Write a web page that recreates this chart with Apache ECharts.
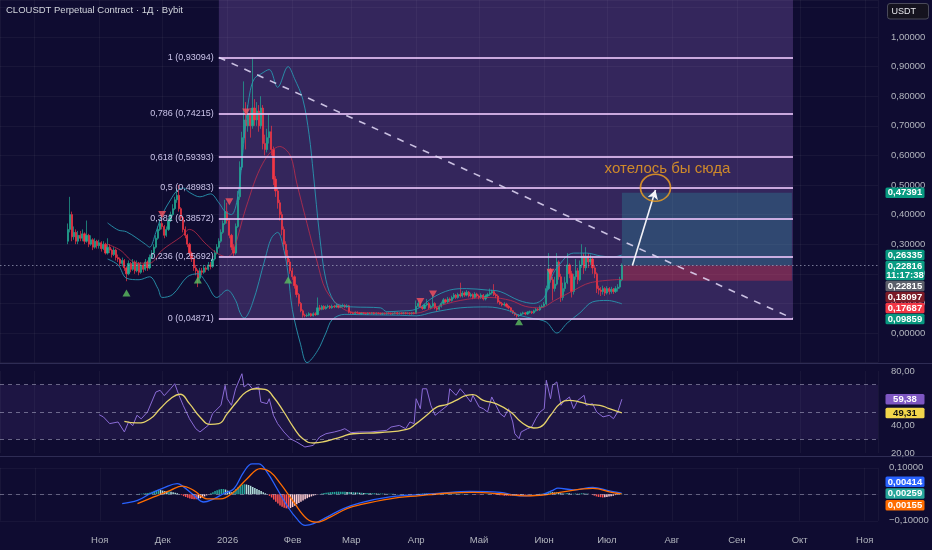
<!DOCTYPE html>
<html><head><meta charset="utf-8">
<script src="https://cdn.jsdelivr.net/npm/echarts@6/dist/echarts.min.js"></script>
<style>html,body{margin:0;padding:0;background:#0f0c31;}#c{width:932px;height:550px;}</style>
</head><body><div id="c"></div>
<script>
// ---------- DATA ----------
const FIRST_DATE = [2025, 9, 17]; // 17 Oct 2025, day index 0
const opens = [
0.31,0.35,0.40,0.325,0.34,0.31,0.33,0.32,0.335,0.31,
0.33,0.30,0.315,0.29,0.31,0.295,0.305,0.285,0.30,0.27,
0.29,0.28,0.265,0.28,0.255,0.25,0.235,0.245,0.22,0.20,
0.235,0.215,0.24,0.21,0.235,0.205,0.23,0.215,0.24,0.22,
0.255,0.27,0.29,0.32,0.35,0.37,0.36,0.33,0.35,0.38,
0.40,0.42,0.45,0.465,0.42,0.39,0.35,0.33,0.30,0.27,
0.25,0.22,0.21,0.185,0.21,0.205,0.22,0.215,0.23,0.225,
0.25,0.27,0.29,0.31,0.34,0.37,0.41,0.38,0.33,0.29,
0.27,0.36,0.46,0.56,0.66,0.72,0.70,0.74,0.70,0.76,
0.72,0.75,0.70,0.76,0.64,0.62,0.66,0.68,0.62,0.52,
0.48,0.44,0.40,0.35,0.30,0.26,0.24,0.21,0.19,0.16,
0.13,0.10,0.075,0.06,0.058,0.06,0.065,0.058,0.065,0.062,
0.085,0.08,0.09,0.082,0.088,0.09,0.085,0.09,0.088,0.092,
0.087,0.09,0.093,0.088,0.092,0.07,0.068,0.066,0.07,0.067,
0.065,0.068,0.066,0.064,0.067,0.066,0.068,0.065,0.067,0.066,
0.064,0.066,0.065,0.067,0.066,0.064,0.066,0.068,0.065,0.067,
0.066,0.068,0.066,0.067,0.065,0.068,0.066,0.09,0.10,0.088,
0.083,0.095,0.10,0.085,0.09,0.10,0.085,0.08,0.09,0.10,
0.112,0.105,0.115,0.11,0.12,0.128,0.12,0.13,0.125,0.135,
0.128,0.138,0.125,0.13,0.12,0.132,0.125,0.12,0.128,0.115,
0.125,0.13,0.135,0.14,0.13,0.125,0.105,0.10,0.095,0.098,
0.09,0.085,0.075,0.068,0.062,0.058,0.06,0.065,0.068,0.064,
0.07,0.072,0.068,0.075,0.08,0.078,0.088,0.09,0.098,0.15,
0.215,0.18,0.15,0.165,0.24,0.19,0.12,0.15,0.17,0.23,
0.20,0.14,0.19,0.21,0.18,0.23,0.26,0.22,0.26,0.24,
0.25,0.22,0.20,0.15,0.145,0.14,0.15,0.135,0.15,0.14,
0.148,0.14,0.15,0.155,0.18];
const closes = [
0.35,0.40,0.325,0.34,0.31,0.33,0.32,0.335,0.31,0.33,
0.30,0.315,0.29,0.31,0.295,0.305,0.285,0.30,0.27,0.29,
0.28,0.265,0.28,0.255,0.25,0.235,0.245,0.22,0.20,0.235,
0.215,0.24,0.21,0.235,0.205,0.23,0.215,0.24,0.22,0.255,
0.27,0.29,0.32,0.35,0.37,0.36,0.33,0.35,0.38,0.40,
0.42,0.45,0.465,0.42,0.39,0.35,0.33,0.30,0.27,0.25,
0.22,0.21,0.185,0.21,0.205,0.22,0.215,0.23,0.225,0.25,
0.27,0.29,0.31,0.34,0.37,0.41,0.38,0.33,0.29,0.27,
0.36,0.46,0.56,0.66,0.72,0.70,0.74,0.70,0.76,0.72,
0.75,0.70,0.76,0.64,0.62,0.66,0.68,0.62,0.52,0.48,
0.44,0.40,0.35,0.30,0.26,0.24,0.21,0.19,0.16,0.13,
0.10,0.075,0.06,0.058,0.06,0.065,0.058,0.065,0.062,0.085,
0.08,0.09,0.082,0.088,0.09,0.085,0.09,0.088,0.092,0.087,
0.09,0.093,0.088,0.092,0.07,0.068,0.066,0.07,0.067,0.065,
0.068,0.066,0.064,0.067,0.066,0.068,0.065,0.067,0.066,0.064,
0.066,0.065,0.067,0.066,0.064,0.066,0.068,0.065,0.067,0.066,
0.068,0.066,0.067,0.065,0.068,0.066,0.09,0.10,0.088,0.083,
0.095,0.10,0.085,0.09,0.10,0.085,0.08,0.09,0.10,0.112,
0.105,0.115,0.11,0.12,0.128,0.12,0.13,0.125,0.135,0.128,
0.138,0.125,0.13,0.12,0.132,0.125,0.12,0.128,0.115,0.125,
0.13,0.135,0.14,0.13,0.125,0.105,0.10,0.095,0.098,0.09,
0.085,0.075,0.068,0.062,0.058,0.06,0.065,0.068,0.064,0.07,
0.072,0.068,0.075,0.08,0.078,0.088,0.09,0.098,0.15,0.215,
0.18,0.15,0.165,0.24,0.19,0.12,0.15,0.17,0.23,0.20,
0.14,0.19,0.21,0.18,0.23,0.26,0.22,0.26,0.24,0.25,
0.22,0.20,0.15,0.145,0.14,0.15,0.135,0.15,0.14,0.148,
0.14,0.15,0.155,0.18,0.22816];
const highs = [
0.37,0.46,0.41,0.36,0.35,0.345,0.345,0.35,0.34,0.38,
0.335,0.33,0.32,0.32,0.315,0.315,0.31,0.31,0.305,0.32,
0.30,0.285,0.29,0.285,0.265,0.255,0.255,0.25,0.225,0.245,
0.24,0.25,0.245,0.245,0.24,0.24,0.235,0.25,0.245,0.265,
0.28,0.30,0.33,0.36,0.385,0.39,0.365,0.36,0.39,0.41,
0.435,0.46,0.49,0.50,0.425,0.395,0.36,0.335,0.305,0.275,
0.255,0.23,0.215,0.22,0.22,0.23,0.225,0.24,0.24,0.26,
0.28,0.30,0.32,0.35,0.38,0.45,0.44,0.385,0.335,0.30,
0.37,0.48,0.58,0.68,0.85,0.78,0.77,0.76,0.93,0.79,
0.78,0.77,0.80,0.77,0.67,0.69,0.74,0.70,0.63,0.53,
0.49,0.45,0.41,0.36,0.31,0.28,0.25,0.22,0.195,0.165,
0.135,0.105,0.08,0.065,0.066,0.07,0.068,0.07,0.07,0.12,
0.095,0.095,0.094,0.093,0.096,0.094,0.096,0.095,0.098,0.096,
0.095,0.099,0.097,0.097,0.095,0.073,0.071,0.073,0.073,0.07,
0.071,0.071,0.069,0.07,0.07,0.071,0.071,0.07,0.07,0.069,
0.069,0.069,0.07,0.07,0.069,0.069,0.071,0.071,0.07,0.07,
0.071,0.071,0.07,0.07,0.071,0.071,0.11,0.108,0.104,0.092,
0.10,0.115,0.104,0.096,0.13,0.104,0.09,0.096,0.106,0.118,
0.116,0.122,0.12,0.126,0.135,0.132,0.136,0.17,0.142,0.14,
0.145,0.142,0.136,0.134,0.138,0.136,0.13,0.134,0.132,0.13,
0.136,0.15,0.146,0.165,0.135,0.13,0.11,0.105,0.104,0.102,
0.094,0.088,0.078,0.071,0.065,0.064,0.069,0.072,0.071,0.074,
0.076,0.075,0.079,0.085,0.084,0.093,0.096,0.105,0.16,0.27,
0.22,0.19,0.19,0.27,0.245,0.20,0.17,0.19,0.27,0.235,
0.21,0.20,0.25,0.22,0.245,0.30,0.27,0.29,0.27,0.265,
0.255,0.23,0.205,0.16,0.155,0.16,0.155,0.158,0.155,0.156,
0.152,0.158,0.165,0.19,0.235];
const lows = [
0.30,0.34,0.31,0.315,0.30,0.30,0.31,0.31,0.30,0.305,
0.29,0.295,0.28,0.285,0.285,0.285,0.275,0.28,0.265,0.265,
0.27,0.255,0.26,0.245,0.24,0.225,0.225,0.21,0.175,0.195,
0.205,0.21,0.20,0.205,0.195,0.20,0.205,0.21,0.21,0.215,
0.25,0.265,0.285,0.315,0.345,0.35,0.32,0.325,0.345,0.375,
0.395,0.415,0.44,0.41,0.38,0.34,0.32,0.29,0.26,0.24,
0.21,0.195,0.155,0.18,0.195,0.20,0.205,0.21,0.215,0.22,
0.245,0.265,0.285,0.305,0.335,0.365,0.37,0.32,0.28,0.26,
0.265,0.355,0.45,0.55,0.64,0.62,0.68,0.66,0.69,0.70,
0.70,0.68,0.69,0.62,0.60,0.61,0.64,0.60,0.50,0.46,
0.42,0.38,0.33,0.28,0.25,0.23,0.20,0.18,0.15,0.12,
0.09,0.07,0.052,0.053,0.054,0.056,0.055,0.056,0.058,0.06,
0.075,0.077,0.078,0.079,0.084,0.081,0.082,0.084,0.085,0.083,
0.084,0.086,0.084,0.085,0.066,0.064,0.063,0.063,0.064,0.062,
0.062,0.063,0.061,0.061,0.063,0.063,0.062,0.062,0.063,0.061,
0.061,0.062,0.062,0.063,0.061,0.061,0.063,0.062,0.062,0.063,
0.063,0.063,0.063,0.062,0.062,0.063,0.065,0.086,0.084,0.078,
0.08,0.09,0.08,0.08,0.086,0.08,0.072,0.076,0.086,0.096,
0.10,0.10,0.105,0.106,0.115,0.115,0.116,0.12,0.12,0.122,
0.124,0.12,0.12,0.114,0.116,0.12,0.114,0.115,0.11,0.11,
0.12,0.125,0.13,0.125,0.118,0.10,0.095,0.09,0.09,0.086,
0.08,0.07,0.064,0.058,0.052,0.054,0.057,0.062,0.06,0.061,
0.066,0.064,0.065,0.072,0.074,0.075,0.084,0.086,0.095,0.145,
0.17,0.11,0.14,0.16,0.18,0.105,0.11,0.14,0.165,0.185,
0.12,0.13,0.18,0.165,0.175,0.22,0.20,0.21,0.22,0.23,
0.20,0.185,0.135,0.13,0.125,0.13,0.125,0.13,0.13,0.133,
0.132,0.135,0.14,0.15,0.175];

// Bollinger bands [day index, value]
const bbUpper = [[19,0.372],[24,0.348],[28,0.342],[33,0.32],[37,0.30],[39,0.29],[42,0.34],[45,0.40],[49,0.45],[52,0.48],[55,0.49],[58,0.475],[63,0.46],[68,0.47],[72,0.44],[75,0.41],[78,0.40],[81,0.46],[83,0.58],[85,0.72],[87,0.82],[89,0.86],[92,0.875],[96,0.89],[100,0.83],[105,0.90],[108,0.86],[112,0.79],[115,0.67],[117,0.54],[120,0.33],[123,0.18],[127,0.105],[131,0.092],[136,0.088],[149,0.085],[152,0.072],[158,0.074],[166,0.08],[174,0.12],[182,0.145],[190,0.15],[200,0.145],[206,0.14],[215,0.11],[222,0.10],[227,0.12],[230,0.18],[233,0.22],[241,0.27],[247,0.27],[254,0.26],[260,0.257],[264,0.26335]];
const bbLower = [[19,0.25],[24,0.23],[28,0.185],[34,0.18],[39,0.19],[43,0.15],[45,0.12],[50,0.13],[57,0.19],[62,0.20],[66,0.17],[71,0.12],[76,0.145],[80,0.11],[82,0.07],[84,0.05],[88,0.10],[94,0.25],[97,0.32],[100,0.34],[103,0.28],[105,0.20],[107,0.08],[111,-0.04],[114,-0.10],[119,-0.06],[123,0.0],[126,0.045],[132,0.063],[139,0.062],[158,0.06],[166,0.058],[174,0.07],[187,0.085],[200,0.088],[209,0.078],[215,0.06],[221,0.05],[228,0.037],[233,0.0],[238,0.034],[244,0.068],[250,0.105],[257,0.11],[264,0.09859]];
const bbBasis = [[19,0.30],[25,0.28],[33,0.236],[39,0.236],[45,0.28],[54,0.325],[58,0.35],[66,0.30],[71,0.27],[76,0.257],[79,0.28],[85,0.425],[93,0.574],[101,0.63],[106,0.60],[109,0.51],[114,0.37],[119,0.236],[123,0.145],[130,0.088],[136,0.07],[166,0.067],[174,0.085],[187,0.11],[201,0.12],[211,0.11],[218,0.09],[225,0.085],[232,0.11],[240,0.14],[249,0.17],[264,0.18097]];

// signal markers [day index, price]
const buySignals = [[28,0.135],[62,0.179],[105,0.179],[215,0.038]];
const sellSignals = [[45,0.40],[77,0.443],[85,0.747],[168,0.106],[174,0.132],[230,0.205]];

// Fibonacci retracement
const fibRatios = ['1','0,786','0,618','0,5','0,382','0,236','0'];
const fibPrices = [0.93094,0.74215,0.59393,0.48983,0.38572,0.25692,0.04871];
const fibSpan = [72, 345.5];
// long position tool
const posSpan = [264, 345];
const posEntry = 0.22815, posTarget = 0.47391, posStop = 0.17687;
const lastPrice = 0.22816;
// annotation
const arrowFrom = [269, 0.228], arrowTo = [280, 0.483];
const circleAt = [280, 0.491];
const noteAt = [285.7, 0.554];
const noteText = 'хотелось бы сюда';

// RSI [day, value] and its MA
const rsiLine = [[15,48],[17,46.4],[20,41.5],[24,42.7],[27,35.4],[29,42.7],[31,40],[33,47.6],[35,45],[38,50],[40,57.3],[42,64.6],[44,65.9],[46,62],[49,67],[51,70.7],[53,62.2],[55,54.9],[58,45.1],[61,37.8],[63,35.4],[67,40.3],[69,48.8],[73,54.9],[75,69.5],[76,59.7],[78,54.9],[80,67],[83,78],[84,68.3],[86,70.7],[88,67],[91,68.3],[92,57.3],[95,56.1],[96,59.7],[98,47.6],[100,41.5],[103,35.4],[106,30.5],[109,28.1],[113,24.4],[117,25.6],[120,31.7],[123,34.1],[127,35.4],[130,36.6],[132,37.8],[135,34.9],[139,35.4],[144,35.4],[152,36.6],[154,39],[158,40.2],[161,37.8],[163,42.7],[165,41.5],[166,59.7],[168,52.4],[169,67],[171,67],[173,54.9],[175,47.6],[177,50],[181,54.9],[182,67],[185,62.2],[187,67],[189,63.4],[192,57.3],[193,62.2],[196,53.7],[198,52.4],[200,50],[202,61],[204,54.9],[206,48.8],[208,46.4],[210,52.4],[212,42.7],[213,34.1],[215,30.5],[216,35.4],[219,37.8],[221,39],[223,45.1],[225,50],[227,52.4],[228,73.2],[230,59.7],[231,69.5],[233,72],[235,54.9],[236,57.3],[239,61],[241,52.4],[243,58.5],[246,62.2],[247,54.9],[250,56.1],[252,50],[255,46.4],[258,47.6],[260,45.1],[262,50],[264,59.38]];
const rsiMa = [[27,43.2],[33,42],[39,44.7],[44,52.4],[49,59.7],[53.5,63],[58,56.1],[63,46.4],[68,41],[72,41.5],[76,48.8],[80.5,57.3],[85,64.6],[90,67],[94,66.6],[98,61],[103,50],[107.5,39],[112,30.5],[117,27.3],[123,28.6],[130,31.7],[136,34.1],[149,35],[161.5,37.3],[166,41.5],[171,47.6],[176,53.7],[180.5,55.4],[185,58.5],[190,62.2],[193,62.7],[198,58.5],[204,56.1],[211,50],[216,42.7],[222,38.3],[225,39],[230,47.6],[234.5,56.1],[239,58.5],[244,57.3],[249,55.4],[253.5,54.9],[258,52.4],[264,49.31]];

// MACD
const macdLine = [[25.7,-0.035],[33,-0.023],[39,0.002],[45.5,0.024],[52,0.04],[55,0.028],[60,-0.004],[64.6,-0.029],[69.4,-0.017],[74,0.002],[79,0.021],[83.7,0.084],[87.7,0.115],[90.8,0.115],[94.8,0.084],[99.6,0.021],[104.3,-0.042],[109,-0.092],[113,-0.117],[117,-0.111],[123.4,-0.086],[131.3,-0.054],[139.3,-0.032],[153.5,-0.01],[167.8,-0.001],[177.4,0.004],[191.6,0.011],[206,0.007],[215.5,-0.006],[225,-0.003],[231.2,0.015],[233.6,0.023],[241,0.017],[250.3,0.026],[257,0.015],[264,0.00414]];
const signalLine = [[33,-0.035],[40.8,-0.01],[48.7,0.015],[54.3,0.031],[59.8,0.015],[66.2,-0.017],[72.6,-0.017],[79,0.009],[85.3,0.059],[91.6,0.097],[96.4,0.084],[101.2,0.04],[107.5,-0.029],[113.8,-0.092],[118.6,-0.105],[125,-0.086],[132.9,-0.054],[139.3,-0.039],[153.5,-0.017],[167.8,-0.005],[180.7,0.004],[193.1,0.007],[206,0.002],[218.8,-0.006],[228.3,-0.001],[234.5,0.007],[250.3,0.022],[259.8,0.006],[264,0.00155]];
const HIST_START = 33;
const macdHist = [
0.001,0.002,0.002,0.003,0.004,0.005,
0.007,0.010,0.013,0.015,0.017,0.016,
0.014,0.012,0.011,0.012,0.010,
0.008,0.006,0.004,0.001,
-0.003,-0.007,-0.010,-0.013,-0.016,-0.018,-0.019,-0.019,
-0.017,-0.015,-0.012,-0.008,-0.004,
0.000,0.004,0.008,0.012,
0.015,0.018,0.020,0.020,0.018,0.014,
0.010,0.008,0.012,0.020,
0.027,0.032,0.036,0.038,0.037,0.035,0.032,
0.028,0.024,0.020,0.016,0.012,0.008,0.004,0.001,
-0.006,-0.012,-0.020,-0.028,-0.035,-0.042,-0.047,-0.051,-0.053,-0.054,-0.052,
-0.048,-0.043,-0.038,-0.033,-0.028,-0.023,-0.019,-0.015,-0.011,-0.008,-0.005,-0.003,-0.001,0.001,
0.003,0.005,0.006,0.007,0.008,0.009,0.009,0.010,0.010,0.010,0.010,0.010,0.009,0.009,0.008,0.008,0.007,0.007,0.006,
0.006,0.005,0.005,0.005,0.004,0.004,0.004,0.003,0.003,0.003,0.003,0.002,0.002,0.002,0.002,0.002,0.001,0.001,0.001,0.001,0.001,0.001,0.000,0.000,0.000,0.000,0.001,0.002,0.002,
0.003,0.003,0.003,0.002,0.002,0.002,0.001,0.001,0.001,0.002,0.002,0.003,0.003,0.003,0.003,0.003,0.002,0.002,0.002,0.002,0.001,0.001,0.001,0.000,0.000,-0.001,-0.001,-0.001,-0.001,0.000,0.000,0.001,0.001,0.000,-0.001,-0.002,-0.003,
-0.004,-0.004,-0.005,-0.005,-0.005,-0.005,-0.005,-0.005,-0.004,-0.004,-0.003,-0.002,-0.002,-0.001,-0.001,
0.000,0.000,0.001,0.001,0.002,0.002,0.003,
0.006,0.010,0.010,0.008,0.007,0.009,0.007,
0.004,0.003,0.003,0.005,0.004,0.002,0.002,0.003,0.002,0.003,0.004,0.003,0.003,0.002,
0.000,-0.002,-0.005,-0.008,-0.010,-0.011,-0.012,-0.011,-0.010,-0.008,-0.007,-0.005,
-0.003,-0.001,0.001,0.00259];

// price-scale badges
const priceBadges = [
  {v:0.47391, bg:'#089981'},
  {v:0.26335, bg:'#089981'},
  {v:0.22816, bg:'#0a9d84', sub:'11:17:38'},
  {v:0.22815, bg:'#5d606b'},
  {v:0.18097, bg:'#7b1a27'},
  {v:0.17687, bg:'#f23645'},
  {v:0.09859, bg:'#089981'}
];
const rsiBadges = [{v:59.38, bg:'#7e57c2', fg:'#ffffff'},{v:49.31, bg:'#f2d64b', fg:'#111111'}];
const macdBadges = [{v:0.00414, bg:'#2962ff'},{v:0.00259, bg:'#26a69a'},{v:0.00155, bg:'#ff6d00'}];
const monthNames = ['Янв','Фев','Мар','Апр','Май','Июн','Июл','Авг','Сен','Окт','Ноя','Дек'];
const titleText = 'CLOUSDT Perpetual Contract · 1Д · Bybit';
const currencyText = 'USDT';

// ---------- CHART ----------
const DAY = 86400000;
const T0 = Date.UTC(FIRST_DATE[0], FIRST_DATE[1], FIRST_DATE[2]);
const day = i => T0 + i * DAY;
const pts = arr => arr.map(p => [day(p[0]), p[1]]);
const FONT = 'Liberation Sans';
const AX = '#b2b5be';
const X_MIN = day(-32.25), X_MAX = day(386);
const comma = (v, d) => (v < 0 ? '−' : '') + Math.abs(v).toFixed(d).replace('.', ',');

const candles = closes.map((c, i) => [day(i), opens[i], c, lows[i], highs[i]]);
const histData = macdHist.map((v, k) => [day(HIST_START + k), v]);

function xAxisCfg(gi, showLabels) {
  return {
    type: 'time', gridIndex: gi, min: X_MIN, max: X_MAX,
    splitNumber: 14, minInterval: 28 * DAY, maxInterval: 31 * DAY,
    axisLine: {show: false}, axisTick: {show: false},
    splitLine: {show: true, lineStyle: {color: 'rgba(255,255,255,0.045)', width: 1}},
    axisLabel: showLabels ? {
      show: true, color: AX, fontSize: 9.5, fontFamily: FONT, margin: 15, hideOverlap: false,
      formatter: function (v) {
        if (v < T0) return '';
        const d = new Date(v);
        if (d.getUTCDate() !== 1 || d.getUTCHours() !== 0) return '';
        const m = d.getUTCMonth();
        return m === 0 ? String(d.getUTCFullYear()) : monthNames[m];
      }
    } : {show: false}
  };
}
const noAxisDeco = {axisLine: {show: false}, axisTick: {show: false}};

const option = {
  backgroundColor: '#0f0c31',
  animation: false,
  useUTC: true,
  grid: [
    {left: 0, right: 54, top: 0, height: 362.6, outerBoundsMode: 'none'},
    {left: 0, right: 54, top: 371, height: 82, outerBoundsMode: 'none'},
    {left: 0, right: 54, top: 467.8, height: 53, outerBoundsMode: 'none'}
  ],
  xAxis: [xAxisCfg(0, false), xAxisCfg(1, false), xAxisCfg(2, true)],
  yAxis: [
    Object.assign({type: 'value', gridIndex: 0, position: 'right', min: -0.1, max: 1.125, interval: 0.1,
      splitLine: {show: true, lineStyle: {color: 'rgba(255,255,255,0.045)'}},
      axisLabel: {color: AX, fontSize: 9.5, fontFamily: FONT, margin: 13,
        formatter: v => (v < -1e-6 || v > 1.00001) ? '' : comma(v, 5)}}, noAxisDeco),
    Object.assign({type: 'value', gridIndex: 1, position: 'right', min: 20, max: 80, interval: 20,
      splitLine: {show: false},
      axisLabel: {color: AX, fontSize: 9.5, fontFamily: FONT, margin: 13, formatter: v => comma(v, 2)}}, noAxisDeco),
    Object.assign({type: 'value', gridIndex: 2, position: 'right', min: -0.1, max: 0.1, interval: 0.1,
      splitLine: {show: true, lineStyle: {color: 'rgba(255,255,255,0.04)'}},
      axisLabel: {color: AX, fontSize: 9.5, fontFamily: FONT, margin: 11,
        formatter: v => Math.abs(v) < 1e-9 ? '' : comma(v, 5)}}, noAxisDeco)
  ],
  series: [
    { // Fibonacci retracement
      type: 'line', xAxisIndex: 0, yAxisIndex: 0, data: [], z: 1, silent: true,
      markArea: {silent: true, itemStyle: {color: 'rgba(155,112,210,0.27)'},
        data: [[{coord: [day(fibSpan[0]), fibPrices[6]]}, {coord: [day(fibSpan[1]), 1.125]}]]},
      markLine: {silent: true, symbol: ['none', 'none'],
        lineStyle: {color: 'rgba(228,192,244,0.85)', width: 2, type: 'solid'},
        label: {show: true, position: 'start', distance: 5, color: '#cbc4ea', fontSize: 9, fontFamily: FONT,
          formatter: p => p.name},
        data: fibPrices.map((p, k) => [
          {name: fibRatios[k] + ' (' + comma(p, 5) + ')', coord: [day(fibSpan[0]), p]},
          {coord: [day(fibSpan[1]), p]}])}
    },
    { // long position tool
      type: 'line', xAxisIndex: 0, yAxisIndex: 0, data: [], z: 2, silent: true,
      markArea: {silent: true, data: [
        [{coord: [day(posSpan[0]), posEntry], itemStyle: {color: 'rgba(40,170,175,0.26)'}}, {coord: [day(posSpan[1]), posTarget]}],
        [{coord: [day(posSpan[0]), posStop], itemStyle: {color: 'rgba(242,54,69,0.32)'}}, {coord: [day(posSpan[1]), posEntry]}]
      ]}
    },
    {
      type: 'candlestick', xAxisIndex: 0, yAxisIndex: 0, data: candles, z: 3,
      encode: {x: 0, y: [1, 2, 3, 4]},
      barWidth: 1.7,
      itemStyle: {color: '#22ab94', color0: '#f23645', borderColor: '#22ab94', borderColor0: '#f23645', borderWidth: 0.7},
      markLine: {silent: true, symbol: ['none', 'none'], label: {show: false},
        lineStyle: {color: 'rgba(170,175,200,0.65)', width: 1, type: [1.5, 2.5]},
        data: [{yAxis: lastPrice}]}
    },
    {type: 'line', xAxisIndex: 0, yAxisIndex: 0, data: pts(bbBasis), z: 4, symbol: 'none', smooth: 0.35, clip: false,
      lineStyle: {color: 'rgba(200,45,75,0.75)', width: 1}},
    {type: 'line', xAxisIndex: 0, yAxisIndex: 0, data: pts(bbUpper), z: 4, symbol: 'none', smooth: 0.35, clip: false,
      lineStyle: {color: 'rgba(40,150,175,0.9)', width: 1}},
    {type: 'line', xAxisIndex: 0, yAxisIndex: 0, data: pts(bbLower), z: 4, symbol: 'none', smooth: 0.35, clip: false,
      lineStyle: {color: 'rgba(40,150,175,0.9)', width: 1}},
    {type: 'scatter', xAxisIndex: 0, yAxisIndex: 0, data: pts(buySignals), z: 5, symbol: 'triangle', symbolSize: [8, 7],
      itemStyle: {color: '#5cbf60'}},
    {type: 'scatter', xAxisIndex: 0, yAxisIndex: 0, data: pts(sellSignals), z: 5, symbol: 'triangle', symbolRotate: 180, symbolSize: [8, 7],
      itemStyle: {color: '#f7525f'}},
    { // dashed trend line (fib diagonal)
      type: 'line', xAxisIndex: 0, yAxisIndex: 0, data: [], z: 6, silent: true,
      markLine: {silent: true, symbol: ['none', 'none'], label: {show: false},
        lineStyle: {color: 'rgba(228,218,248,0.85)', width: 1.6, type: [7, 7]},
        data: [[{coord: [day(fibSpan[0]), fibPrices[0]]}, {coord: [day(fibSpan[1]), fibPrices[6]]}]]}
    },
    { // arrow
      type: 'line', xAxisIndex: 0, yAxisIndex: 0, data: [], z: 6, silent: true,
      markLine: {silent: true, symbol: ['none', 'arrow'], symbolSize: [8, 9], label: {show: false},
        lineStyle: {color: '#f2f2f7', width: 1.6, type: 'solid'},
        data: [[{coord: [day(arrowFrom[0]), arrowFrom[1]]}, {coord: [day(arrowTo[0]), arrowTo[1]]}]]}
    },
    {type: 'scatter', xAxisIndex: 0, yAxisIndex: 0, data: pts([circleAt]), z: 6, symbol: 'circle', symbolSize: [30, 27],
      itemStyle: {color: 'rgba(0,0,0,0)', borderColor: '#f5a31e', borderWidth: 1.6}},
    {type: 'scatter', xAxisIndex: 0, yAxisIndex: 0, data: pts([noteAt]), z: 6, symbolSize: 1,
      itemStyle: {color: 'rgba(0,0,0,0)'},
      label: {show: true, position: 'inside', formatter: noteText, fontSize: 15, fontFamily: FONT, color: '#f5a31e'}},
    // RSI pane
    {type: 'line', xAxisIndex: 1, yAxisIndex: 1, data: pts(rsiLine), symbol: 'none', smooth: false, z: 3,
      lineStyle: {color: '#8a6bd6', width: 1},
      markArea: {silent: true, itemStyle: {color: 'rgba(126,87,194,0.13)'}, data: [[{yAxis: 30}, {yAxis: 70}]]},
      markLine: {silent: true, symbol: ['none', 'none'], label: {show: false},
        lineStyle: {color: 'rgba(190,190,215,0.5)', width: 1, type: [4, 4]},
        data: [{yAxis: 70}, {yAxis: 50}, {yAxis: 30}]}},
    {type: 'line', xAxisIndex: 1, yAxisIndex: 1, data: pts(rsiMa), symbol: 'none', smooth: 0.5, z: 4,
      lineStyle: {color: '#e6d36a', width: 1.3}},
    // MACD pane
    {type: 'bar', xAxisIndex: 2, yAxisIndex: 2, data: histData, barWidth: 1.5, z: 2,
      itemStyle: {color: function (p) {
        const k = p.dataIndex, v = macdHist[k], prev = k > 0 ? macdHist[k - 1] : 0;
        if (v >= 0) return v >= prev ? '#26a69a' : '#b2dfdb';
        return v <= prev ? '#ff5252' : '#ffcdd2';
      }},
      markLine: {silent: true, symbol: ['none', 'none'], label: {show: false},
        lineStyle: {color: 'rgba(190,190,215,0.45)', width: 1, type: [4, 4]}, data: [{yAxis: 0}]}},
    {type: 'line', xAxisIndex: 2, yAxisIndex: 2, data: pts(macdLine), symbol: 'none', smooth: 0.4, clip: false, z: 3,
      lineStyle: {color: '#2962ff', width: 1.3}},
    {type: 'line', xAxisIndex: 2, yAxisIndex: 2, data: pts(signalLine), symbol: 'none', smooth: 0.4, clip: false, z: 3,
      lineStyle: {color: '#ff6d00', width: 1.3}}
  ]
};

const chart = echarts.init(document.getElementById('c'), null, {renderer: 'canvas'});
chart.setOption(option);

// ---------- overlay: title, separators, price badges ----------
function stack(list, yAxisIndex, mode, fmtDigits) {
  const items = list.map(b => Object.assign({}, b, {
    y: chart.convertToPixel({yAxisIndex: yAxisIndex}, b.v), h: b.sub ? 19.5 : 10.5}));
  items.sort((a, b) => a.y - b.y);
  if (mode === 'down') {
    let prevBottom = -Infinity;
    items.forEach(it => { let top = it.y - 5.25; if (top < prevBottom + 0.5) top = prevBottom + 0.5; it.top = top; prevBottom = top + it.h; });
  } else {
    const gap = 1.2;
    const total = items.reduce((s, it) => s + it.h, 0) + gap * (items.length - 1);
    const mean = items.reduce((s, it) => s + it.y, 0) / items.length;
    let top = mean - total / 2;
    items.forEach(it => { it.top = top; top += it.h + gap; });
  }
  const els = [];
  items.forEach(it => {
    els.push({type: 'rect', z: 100, shape: {x: 885.5, y: it.top, width: 39, height: it.h, r: 1.5}, style: {fill: it.bg}});
    els.push({type: 'text', z: 101, style: {x: 905, y: it.top + 5.4, text: comma(it.v, fmtDigits), fill: it.fg || '#ffffff',
      font: 'bold 9.5px "' + FONT + '"', align: 'center', verticalAlign: 'middle'}});
    if (it.sub) els.push({type: 'text', z: 101, style: {x: 905, y: it.top + 14.6, text: it.sub, fill: '#ffffff',
      font: 'bold 9.5px "' + FONT + '"', align: 'center', verticalAlign: 'middle'}});
  });
  return els;
}

const graphics = [
  {type: 'line', z: 50, shape: {x1: 0, y1: 363.5, x2: 932, y2: 363.5}, style: {stroke: 'rgba(130,130,175,0.28)', lineWidth: 1}},
  {type: 'line', z: 50, shape: {x1: 0, y1: 456.5, x2: 932, y2: 456.5}, style: {stroke: 'rgba(130,130,175,0.28)', lineWidth: 1}},
  {type: 'text', z: 100, style: {x: 6, y: 10, text: titleText, fill: '#d1d4dc', font: '9.5px "' + FONT + '"', verticalAlign: 'middle'}},
  {type: 'rect', z: 100, shape: {x: 887.5, y: 3.5, width: 41, height: 15.5, r: 2.5}, style: {fill: '#15131f', stroke: '#4a4a5a', lineWidth: 1}},
  {type: 'text', z: 101, style: {x: 891.5, y: 11.3, text: currencyText, fill: '#e8e8ee', font: '9px "' + FONT + '"', verticalAlign: 'middle'}}
].concat(stack(priceBadges, 0, 'down', 5), stack(rsiBadges, 1, 'down', 2), stack(macdBadges, 2, 'center', 5));

chart.setOption({graphic: graphics});
</script>
</body></html>
